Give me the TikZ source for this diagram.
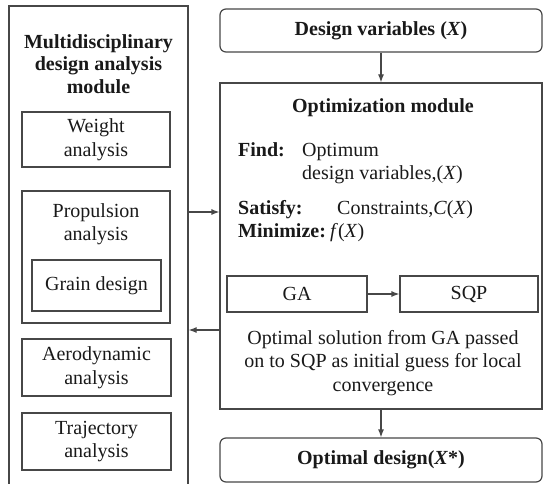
\documentclass[tikz,border=0pt]{standalone}
\usepackage{fontspec}
\setmainfont{Liberation Serif}
\usetikzlibrary{arrows.meta}
\begin{document}
\begin{tikzpicture}[x=1pt,y=-1pt,
  line/.style={draw=black!72,line width=1.2pt},
  box/.style={line, rectangle, inner sep=0pt, font=\fontsize{20}{23.5}\selectfont, text=black!90, align=center},
  rbox/.style={box, rounded corners=6pt},
  arr/.style={line, -{Latex[length=8pt,width=6pt]}},
  txt/.style={font=\fontsize{20}{23.5}\selectfont, text=black!90, align=center, inner sep=0pt},
  btxt/.style={font=\fontsize{20}{22.5}\selectfont\bfseries, text=black!90, align=center, inner sep=0pt}
]
\useasboundingbox (0,0) rectangle (543,484);

% left module
\node[box, minimum width=179pt, minimum height=482pt] (mda) at (98.5,247) {};
\node[btxt] (mdatitle) at (98.5,64) {Multidisciplinary\\design analysis\\module};
\node[box, minimum width=148pt, minimum height=55pt] (weight) at (96,139.5) {Weight\\analysis};
\node[box, minimum width=148pt, minimum height=132pt] (prop) at (96,257) {};
\node[txt] (proptext) at (96,224) {Propulsion\\analysis};
\node[box, minimum width=129pt, minimum height=51pt] (grain) at (96.5,285.5) {Grain design};
\node[box, minimum width=149pt, minimum height=57pt] (aero) at (96.5,367.5) {Aerodynamic\\analysis};
\node[box, minimum width=149pt, minimum height=57pt] (traj) at (96.5,441.5) {Trajectory\\analysis};

% right side
\node[rbox, minimum width=322pt, minimum height=43pt, font=\fontsize{20}{23.5}\selectfont\bfseries] (dv) at (381,30.5) {Design variables (\textit{X})};
\node[box, minimum width=322pt, minimum height=326pt] (opt) at (381,246) {};
\node[rbox, minimum width=322pt, minimum height=44pt, font=\fontsize{20}{23.5}\selectfont\bfseries] (od) at (381,460) {Optimal design(\textit{X}*)};

\node[btxt] (opttitle) at (383,108) {Optimization module};
\node[btxt, anchor=base west] (find) at (238,157) {Find:};
\node[txt, anchor=base west] (findA) at (302,157) {Optimum};
\node[txt, anchor=base west] (findB) at (302,179) {design variables,(\textit{X})};
\node[btxt, anchor=base west] (sat) at (238,214) {Satisfy:};
\node[txt, anchor=base west] (satA) at (337,214) {Constraints,\textit{C}(\textit{X})};
\node[btxt, anchor=base west] (mini) at (238,237) {Minimize:};
\node[txt, anchor=base west] (miniA) at (330,237) {\textit{f}(\textit{X})};

\node[box, minimum width=140pt, minimum height=36pt] (ga) at (297,294) {GA};
\node[box, minimum width=138pt, minimum height=36pt] (sqp) at (469,294) {SQP};
\node[txt] (note) at (383,363) {Optimal solution from GA passed\\on to SQP as initial guess for local\\convergence};

% connectors
\coordinate (y1) at (0,212);
\coordinate (y2) at (0,330);
\draw[arr] (dv.south) -- (opt.north);
\draw[arr] (opt.south) -- (od.north);
\draw[arr] (ga.east) -- (sqp.west);
\draw[arr] (mda.east |- y1) -- (opt.west |- y1);
\draw[arr] (opt.west |- y2) -- (mda.east |- y2);
\end{tikzpicture}
\end{document}
